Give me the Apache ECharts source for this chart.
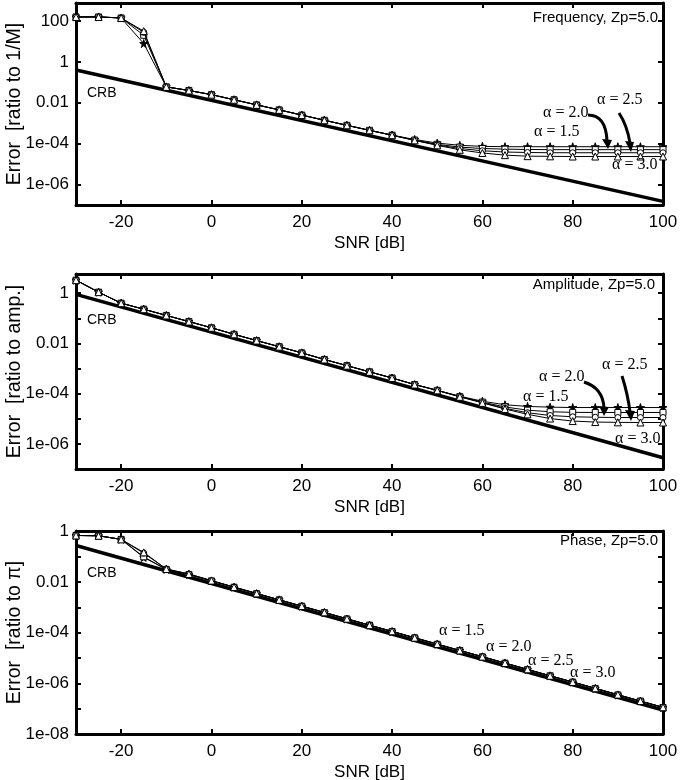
<!DOCTYPE html>
<html><head><meta charset="utf-8">
<script src="https://cdn.jsdelivr.net/npm/echarts/dist/echarts.min.js"></script>
<style>html,body{margin:0;padding:0;background:#fff}#c{width:682px;height:780px}</style>
</head><body><div id="c"></div>
<script>
// ---- data ----
const snr = [-30,-25,-20,-15,-10,-5,0,5,10,15,20,25,30,35,40,45,50,55,60,65,70,75,80,85,90,95,100];
const xTicks = [-20,0,20,40,60,80,100];
const crbX = [-30, 100];

// Frequency panel
const freqCRB = [0.4, 1.5e-7];
const freqA15 = [158,158,141,7.9,0.060,0.040,0.025,0.0141,0.0079,0.0045,0.0025,0.0014,7.9e-4,4.5e-4,2.6e-4,1.6e-4,1.07e-4,8.3e-5,7.4e-5,7.1e-5,7.1e-5,7.1e-5,7.1e-5,7.1e-5,7.1e-5,7.1e-5,7.1e-5];
const freqA20 = [158,158,141,20,0.060,0.040,0.025,0.0141,0.0079,0.0045,0.0025,0.0014,7.9e-4,4.5e-4,2.6e-4,1.5e-4,9.3e-5,6.8e-5,5.8e-5,5.4e-5,5.2e-5,5.1e-5,5.1e-5,5.1e-5,5.1e-5,5.1e-5,5.1e-5];
const freqA25 = [158,158,141,28,0.060,0.040,0.025,0.0141,0.0079,0.0045,0.0025,0.0014,7.9e-4,4.5e-4,2.6e-4,1.45e-4,8.7e-5,5.8e-5,4.5e-5,3.9e-5,3.7e-5,3.6e-5,3.6e-5,3.6e-5,3.6e-5,3.6e-5,3.6e-5];
const freqA30 = [158,158,141,32,0.060,0.040,0.025,0.0141,0.0079,0.0045,0.0025,0.0014,7.9e-4,4.5e-4,2.6e-4,1.45e-4,8.3e-5,5.0e-5,3.5e-5,2.75e-5,2.45e-5,2.4e-5,2.35e-5,2.35e-5,2.35e-5,2.35e-5,2.35e-5];

// Amplitude panel
const ampCRB = [0.9, 2.8e-7];
const ampA15 = [3.3,1.1,0.40,0.23,0.13,0.074,0.042,0.023,0.013,0.0074,0.0042,0.0023,0.0013,7.4e-4,4.2e-4,2.3e-4,1.35e-4,7.9e-5,5.0e-5,3.6e-5,3.1e-5,2.9e-5,2.8e-5,2.8e-5,2.8e-5,2.8e-5,2.8e-5];
const ampA20 = [3.3,1.1,0.40,0.23,0.13,0.074,0.042,0.023,0.013,0.0074,0.0042,0.0023,0.0013,7.4e-4,4.2e-4,2.3e-4,1.35e-4,7.6e-5,4.6e-5,2.95e-5,2.2e-5,1.9e-5,1.8e-5,1.78e-5,1.78e-5,1.78e-5,1.78e-5];
const ampA25 = [3.3,1.1,0.40,0.23,0.13,0.074,0.042,0.023,0.013,0.0074,0.0042,0.0023,0.0013,7.4e-4,4.2e-4,2.3e-4,1.35e-4,7.6e-5,4.4e-5,2.6e-5,1.74e-5,1.35e-5,1.2e-5,1.15e-5,1.12e-5,1.12e-5,1.12e-5];
const ampA30 = [3.3,1.1,0.40,0.23,0.13,0.074,0.042,0.023,0.013,0.0074,0.0042,0.0023,0.0013,7.4e-4,4.2e-4,2.3e-4,1.35e-4,7.5e-5,4.3e-5,2.45e-5,1.5e-5,1.02e-5,8.1e-6,7.4e-6,7.2e-6,7.1e-6,7.1e-6];

// Phase panel
const phCRB = [0.28, 8.9e-8];
const phA15 = [0.70,0.68,0.49,0.095,0.032,0.020,0.0112,0.0063,0.0035,0.0020,0.00112,6.3e-4,3.5e-4,2.0e-4,1.12e-4,6.3e-5,3.5e-5,2.0e-5,1.12e-5,6.3e-6,3.5e-6,2.0e-6,1.12e-6,6.3e-7,3.5e-7,2.0e-7,1.12e-7];
const phA20 = [0.70,0.68,0.49,0.10,0.032,0.020,0.0112,0.0063,0.0035,0.0020,0.00112,6.3e-4,3.5e-4,2.0e-4,1.12e-4,6.3e-5,3.5e-5,2.0e-5,1.12e-5,6.3e-6,3.5e-6,2.0e-6,1.12e-6,6.3e-7,3.5e-7,2.0e-7,1.12e-7];
const phA25 = [0.70,0.68,0.49,0.14,0.033,0.021,0.0115,0.0064,0.0036,0.0020,0.00114,6.4e-4,3.6e-4,2.0e-4,1.14e-4,6.4e-5,3.6e-5,2.0e-5,1.14e-5,6.4e-6,3.6e-6,2.0e-6,1.14e-6,6.4e-7,3.6e-7,2.0e-7,1.14e-7];
const phA30 = [0.70,0.68,0.49,0.15,0.033,0.021,0.0115,0.0064,0.0036,0.0020,0.00114,6.4e-4,3.6e-4,2.0e-4,1.14e-4,6.4e-5,3.6e-5,2.0e-5,1.14e-5,6.4e-6,3.6e-6,2.0e-6,1.14e-6,6.4e-7,3.6e-7,2.0e-7,1.14e-7];

// tick labels
const yTickText = {'2':'100','0':'1','-2':'0.01','-4':'1e-04','-6':'1e-06','-8':'1e-08'};
const freqLabels = [1e-6,1e-4,1e-2,1,100];
const freqTicks = [1e-6,1e-4,1e-2,1,100];
const ampLabels = [1e-6,1e-4,1e-2,1];
const ampTicks = [1e-6,1e-5,1e-4,1e-3,1e-2,1e-1,1];
const phLabels = [1e-8,1e-6,1e-4,1e-2,1];
const phTicks = [1e-8,1e-7,1e-6,1e-5,1e-4,1e-3,1e-2,1e-1,1];
const alphaNames = ['α = 1.5','α = 2.0','α = 2.5','α = 3.0'];
const yNames = ['Error  [ratio to 1/M]','Error  [ratio to amp.]','Error  [ratio to π]'];
const titles = ['Frequency, Zp=5.0','Amplitude, Zp=5.0','Phase, Zp=5.0'];

// ---- chart ----
const STAR = 'path://M50,0 L61,35 L98,35 L68,57 L79,91 L50,70 L21,91 L32,57 L2,35 L39,35 Z';
const symbols = [STAR,'rect','circle','triangle'];
const symSizes = [8,6,6,7];
const panels = [
  {top:3, height:202, min:1e-7, max:760, labels:freqLabels, ticks:freqTicks, crb:freqCRB, series:[freqA15,freqA20,freqA25,freqA30]},
  {top:274, height:195, min:1e-7, max:5.8, labels:ampLabels, ticks:ampTicks, crb:ampCRB, series:[ampA15,ampA20,ampA25,ampA30]},
  {top:531, height:203, min:1e-8, max:1.05, labels:phLabels, ticks:phTicks, crb:phCRB, series:[phA15,phA20,phA25,phA30]}
];
const FONT = '"Liberation Sans", Arial, sans-serif';
const grid=[], xAxis=[], yAxis=[], series=[];
const axLine = {show:true, onZero:false, lineStyle:{color:'#000', width:3}};
panels.forEach((p,i)=>{
  grid.push({left:76, width:587, top:p.top, height:p.height, outerBoundsMode:'none', containLabel:false});
  xAxis.push({gridIndex:i, type:'value', min:-30, max:100, position:'bottom',
    axisLine:axLine, splitLine:{show:false},
    axisTick:{inside:true, length:5, lineStyle:{color:'#000', width:2}, customValues:xTicks},
    axisLabel:{customValues:xTicks, color:'#000', fontSize:17, fontFamily:FONT, margin:9},
    name:'SNR [dB]', nameLocation:'middle', nameGap:30, nameMoveOverlap:false,
    nameTextStyle:{color:'#000', fontSize:17, fontFamily:FONT}});
  xAxis.push({gridIndex:i, type:'value', min:-30, max:100, position:'top',
    axisLine:axLine, splitLine:{show:false},
    axisTick:{inside:true, length:5, lineStyle:{color:'#000', width:2}, customValues:xTicks},
    axisLabel:{show:false}});
  const fmt = v => { const k = String(Math.round(Math.log10(v))); return yTickText[k] || ''; };
  yAxis.push({gridIndex:i, type:'log', logBase:10, min:p.min, max:p.max, position:'left',
    axisLine:axLine, splitLine:{show:false}, minorTick:{show:false},
    axisTick:{inside:true, length:5, lineStyle:{color:'#000', width:2}, customValues:p.ticks},
    axisLabel:{customValues:p.labels, formatter:fmt, color:'#000', fontSize:17, fontFamily:FONT, margin:7},
    name:yNames[i], nameLocation:'middle', nameGap:51, nameMoveOverlap:false,
    nameTextStyle:{color:'#000', fontSize:19.5, fontFamily:FONT}});
  yAxis.push({gridIndex:i, type:'log', logBase:10, min:p.min, max:p.max, position:'right',
    axisLine:axLine, splitLine:{show:false}, minorTick:{show:false},
    axisTick:{inside:true, length:5, lineStyle:{color:'#000', width:2}, customValues:p.ticks},
    axisLabel:{show:false}});
  series.push({type:'line', xAxisIndex:2*i, yAxisIndex:2*i, symbol:'none', z:2,
    lineStyle:{color:'#000', width:3.5}, data:crbX.map((x,k)=>[x,p.crb[k]]), animation:false});
  p.series.forEach((arr,s)=>{
    series.push({type:'line', name:alphaNames[s], xAxisIndex:2*i, yAxisIndex:2*i, z:3+s,
      symbol:symbols[s], symbolSize:symSizes[s], showAllSymbol:true,
      lineStyle:{color:'#000', width:1},
      itemStyle:{color: s===0 ? '#000' : '#fff', borderColor:'#000', borderWidth:1},
      data:snr.map((x,k)=>[x,arr[k]]), animation:false});
  });
});

function txt(x,y,t,font,align){
  return {type:'text', x:x, y:y, z:100, style:{text:t, font:font, fill:'#000',
    align:align||'left', verticalAlign:'middle', textAlign:align||'left', textVerticalAlign:'middle'}};
}
const SANS15 = '15px "Liberation Sans", Arial, sans-serif';
const SANS14 = '14px "Liberation Sans", Arial, sans-serif';
const SERIF = '16px "Liberation Serif", "Times New Roman", serif';
function arrow(x1,y1,cx,cy,x2,y2,head){
  return [
    {type:'bezierCurve', z:100, shape:{x1:x1,y1:y1,cpx1:cx,cpy1:cy,x2:x2,y2:y2}, style:{stroke:'#000', lineWidth:3, fill:null}},
    {type:'polygon', z:100, shape:{points:head}, style:{fill:'#000'}}
  ];
}
const graphic = [
  txt(658,18,titles[0],SANS15,'right'),
  txt(87,93,'CRB',SANS14),
  txt(597,100,alphaNames[2],SERIF), txt(543,113,alphaNames[1],SERIF),
  txt(534,132,alphaNames[0],SERIF), txt(612,165,alphaNames[3],SERIF),
  ...arrow(588,115,606,115,607,141,[[602,139],[612,140],[608,149]]),
  ...arrow(619,113,627,125,630,143,[[625,141],[634,142],[631,152]]),

  txt(655,285,titles[1],SANS15,'right'),
  txt(87,320,'CRB',SANS14),
  txt(602,365,alphaNames[2],SERIF), txt(539,377,alphaNames[1],SERIF),
  txt(523,397,alphaNames[0],SERIF), txt(615,439,alphaNames[3],SERIF),
  ...arrow(584,382,603,388,604,408,[[599,406],[609,407],[604,416]]),
  ...arrow(622,376,628,395,630,412,[[625,410],[635,411],[631,421]]),

  txt(658,541,titles[2],SANS15,'right'),
  txt(87,573,'CRB',SANS14),
  txt(439,631,alphaNames[0],SERIF), txt(486,647,alphaNames[1],SERIF),
  txt(528,661,alphaNames[2],SERIF), txt(570,673,alphaNames[3],SERIF)
];

const chart = echarts.init(document.getElementById('c'), null, {renderer:'canvas'});
chart.setOption({animation:false, backgroundColor:'#fff', grid, xAxis, yAxis, series, graphic});
</script></body></html>
